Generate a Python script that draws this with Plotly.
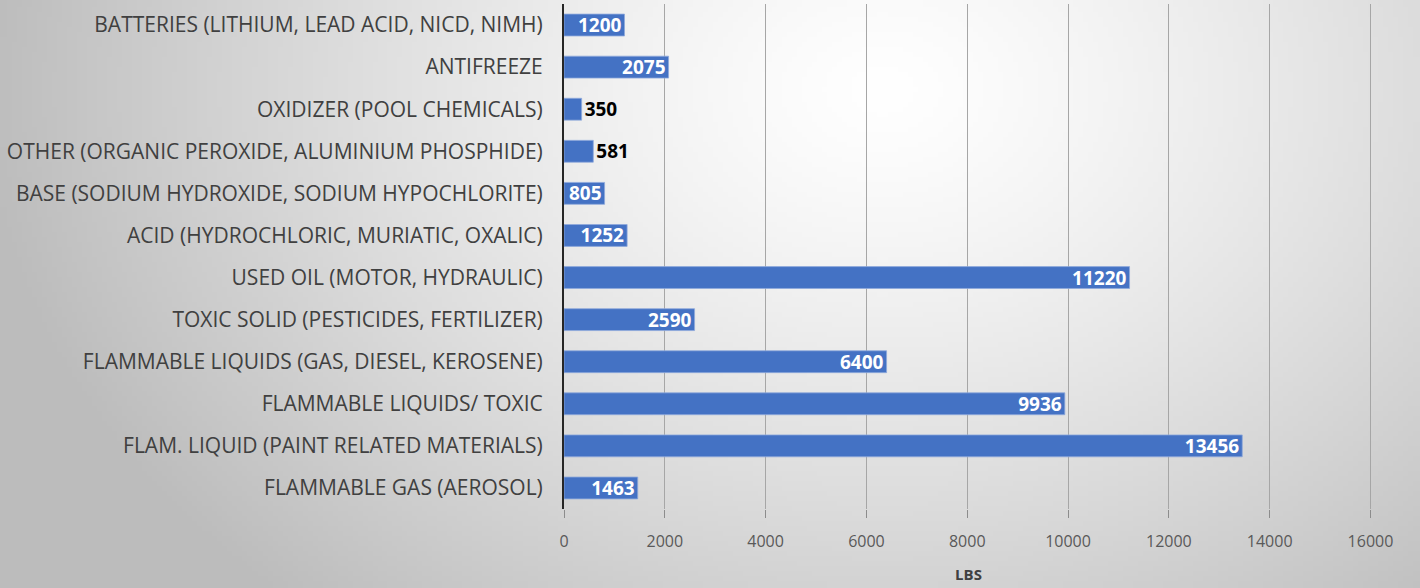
import base64, struct, zlib
import numpy as np
import plotly.graph_objects as go

categories = [
    "FLAMMABLE GAS (AEROSOL)",
    "FLAM. LIQUID (PAINT RELATED MATERIALS)",
    "FLAMMABLE LIQUIDS/ TOXIC",
    "FLAMMABLE LIQUIDS (GAS, DIESEL, KEROSENE)",
    "TOXIC SOLID (PESTICIDES, FERTILIZER)",
    "USED OIL (MOTOR, HYDRAULIC)",
    "ACID (HYDROCHLORIC, MURIATIC, OXALIC)",
    "BASE (SODIUM HYDROXIDE, SODIUM HYPOCHLORITE)",
    "OTHER (ORGANIC PEROXIDE, ALUMINIUM PHOSPHIDE)",
    "OXIDIZER (POOL CHEMICALS)",
    "ANTIFREEZE",
    "BATTERIES (LITHIUM, LEAD ACID, NICD, NIMH)",
]
values = [1463, 13456, 9936, 6400, 2590, 11220, 1252, 805, 581, 350, 2075, 1200]
x_ticks = [0, 2000, 4000, 6000, 8000, 10000, 12000, 14000, 16000]
x_title = "LBS"

FONT = "Open Sans, Liberation Sans, sans-serif"

# radial gradient background image
W, H = 284, 118
yy, xx = np.mgrid[0:H, 0:W]
cx, cy = W * 0.62, H * 0.15
d = np.sqrt(((xx - cx) / (W * 0.6)) ** 2 + ((yy - cy) / (H * 1.1)) ** 2)
v = np.clip(255 - 62 * d ** 1.3, 188, 255).astype(np.uint8)
raw = b"".join(b"\x00" + bytes(np.repeat(row, 3)) for row in v)
def chunk(t, data):
    c = struct.pack(">I", len(data)) + t + data
    return c + struct.pack(">I", zlib.crc32(t + data) & 0xffffffff)
png = b"\x89PNG\r\n\x1a\n" + chunk(b"IHDR", struct.pack(">IIBBBBB", W, H, 8, 2, 0, 0, 0)) \
    + chunk(b"IDAT", zlib.compress(raw)) + chunk(b"IEND", b"")
bg = "data:image/png;base64," + base64.b64encode(png).decode()

inside = [v >= 700 for v in values]
fig = go.Figure(go.Bar(
    x=values, y=categories, orientation="h",
    marker=dict(color="#4472C4", line=dict(color="#8faadc", width=0.8)),
    width=0.52,
    text=[str(v) for v in values],
    textposition=["inside" if i else "outside" for i in inside],
    insidetextanchor="end",
    constraintext="none",
    textangle=0,
    textfont=dict(family=FONT, size=19,
                  color=["white" if i else "black" for i in inside]),
    cliponaxis=False,
))
fig.update_traces(texttemplate="<b>%{text}</b>")
fig.update_layout(
    width=1420, height=588,
    margin=dict(l=564, r=47, t=4, b=79),
    paper_bgcolor="#e6e6e6", plot_bgcolor="rgba(0,0,0,0)",
    images=[dict(source=bg, xref="paper", yref="paper", x=-564/809, y=1 + 4/505,
                 sizex=1420/809, sizey=588/505, sizing="stretch", layer="below",
                 xanchor="left", yanchor="top")],
    showlegend=False,
)
fig.update_xaxes(
    range=[0, 16050], tickvals=x_ticks, ticktext=[str(t) for t in x_ticks],
    showgrid=True, gridcolor="#a6a6a6", gridwidth=1,
    zeroline=False, showline=False,
    ticks="outside", ticklen=8, tickcolor="#8c8c8c", tickwidth=1,
    ticklabelstandoff=10,
    tickfont=dict(family=FONT, size=16, color="#595959"),
    title=dict(text="<b>" + x_title + "</b>", standoff=18,
               font=dict(family=FONT, size=15, color="#404040")),
)
fig.update_yaxes(
    categoryorder="array", categoryarray=categories, range=[-0.5, 11.5],
    showline=True, linecolor="#262626", linewidth=2,
    ticks="", ticklabelstandoff=15,
    tickfont=dict(family=FONT, size=21, color="#404040"),
)
fig.write_html("out.html", config={"displayModeBar": False},
               post_script="document.body.style.margin='0';document.body.style.padding='0';")
